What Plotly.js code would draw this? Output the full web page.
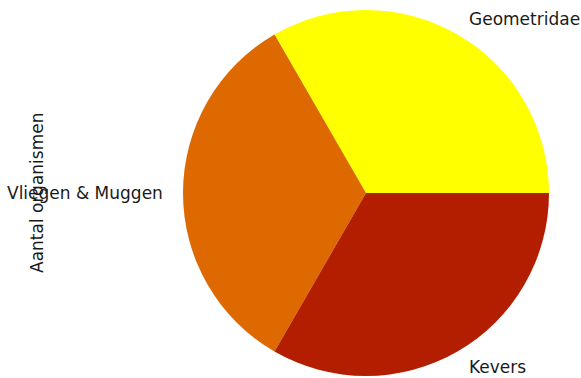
<!DOCTYPE html>
<html>
<head>
<meta charset="utf-8">
<script src="https://cdn.plot.ly/plotly-3.0.1.min.js"></script>
<style>html,body{margin:0;padding:0;background:#fff;}#chart{width:581px;height:378px;}</style>
</head>
<body>
<div id="chart"></div>
<script>
const categories = ["Geometridae", "Vliegen & Muggen", "Kevers"];
const values = [1, 1, 1];
const colors = ["#ffff00", "#dd6900", "#b31d00"];
const yTitle = "Aantal organismen";

const W = 581, H = 378;
const cx = 366, cy = 193, r = 183;

const total = values.reduce((a, b) => a + b, 0);
const annotations = [];
let cum = 0;
values.forEach((v, i) => {
  const mid = (cum + v / 2) / total * 2 * Math.PI;
  cum += v;
  const px = cx + 1.1 * r * Math.cos(mid);
  const py = cy - 1.1 * r * Math.sin(mid);
  annotations.push({
    xref: 'paper', yref: 'paper',
    x: px / W, y: 1 - py / H,
    text: categories[i], showarrow: false,
    xanchor: Math.cos(mid) >= 0 ? 'left' : 'right',
    yanchor: 'middle',
    font: {family: 'DejaVu Sans', size: 17, color: '#1a1a1a'}
  });
});
annotations.push({
  xref: 'paper', yref: 'paper', x: 37 / W, y: 1 - 193 / H,
  text: yTitle, showarrow: false, textangle: -90,
  xanchor: 'center', yanchor: 'middle',
  font: {family: 'DejaVu Sans', size: 17, color: '#1a1a1a'}
});

const data = [{
  type: 'pie',
  labels: categories,
  values: values,
  sort: false,
  direction: 'counterclockwise',
  rotation: -30,
  marker: {colors: colors, line: {width: 0}},
  textinfo: 'none',
  hoverinfo: 'label+value',
  showlegend: false,
  domain: {x: [(cx - r) / W, (cx + r) / W], y: [1 - (cy + r) / H, 1 - (cy - r) / H]}
}];

const layout = {
  width: W, height: H,
  margin: {l: 0, r: 0, t: 0, b: 0},
  paper_bgcolor: '#ffffff',
  plot_bgcolor: '#ffffff',
  annotations: annotations
};

Plotly.newPlot('chart', data, layout, {displayModeBar: false, staticPlot: true});
</script>
</body>
</html>
